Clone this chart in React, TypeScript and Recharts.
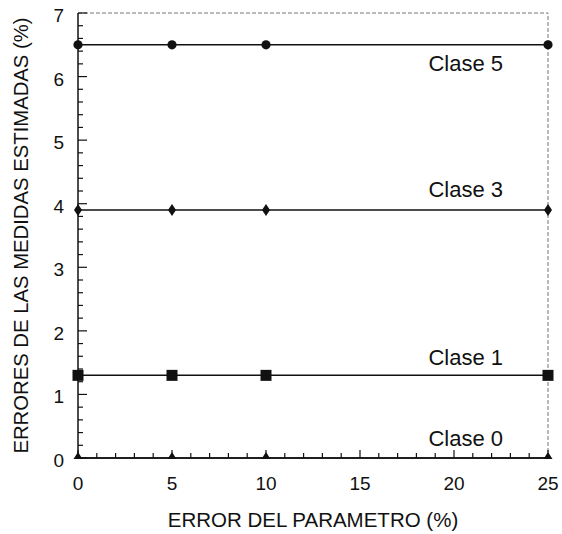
import { LabelList, Line, LineChart, ReferenceLine, XAxis, YAxis } from "recharts";

const X_VALUES = [0, 5, 10, 25];
const CLASE_5 = [6.5, 6.5, 6.5, 6.5];
const CLASE_3 = [3.9, 3.9, 3.9, 3.9];
const CLASE_1 = [1.3, 1.3, 1.3, 1.3];
const CLASE_0 = [0, 0, 0, 0];

const X_LABELS = [0, 5, 10, 15, 20, 25];
const Y_LABELS = [0, 1, 2, 3, 4, 5, 6, 7];
// minor ticks: every 1 on x, every 0.2 on y
const X_TICKS = Array.from({ length: 26 }, (_, i) => i);
const Y_TICKS = Array.from({ length: 36 }, (_, i) => Math.round(i * 2) / 10);

const DATA = X_VALUES.map((x, i) => ({
  x,
  c5: CLASE_5[i],
  c3: CLASE_3[i],
  c1: CLASE_1[i],
  c0: CLASE_0[i],
}));

const FONT = "'Liberation Sans', Arial, Helvetica, sans-serif";
const INK = "#111";

const isLabel = (list: number[], v: number) => list.some((l) => Math.abs(l - v) < 1e-6);

function YTick(props: any) {
  const { x, y, payload } = props;
  const major = isLabel(Y_LABELS, payload.value);
  return (
    <g>
      <line x1={x} x2={x + (major ? 9 : 5)} y1={y} y2={y} stroke={INK} strokeWidth={1.2} />
      {major && (
        <text x={x - 14} y={y + 9} textAnchor="end" fontSize={19} fontFamily={FONT} fill={INK}>
          {Math.round(payload.value)}
        </text>
      )}
    </g>
  );
}

function XTick(props: any) {
  const { x, y, payload } = props;
  const major = isLabel(X_LABELS, payload.value);
  return (
    <g>
      <line x1={x} x2={x} y1={y} y2={y - (major ? 8 : 5)} stroke={INK} strokeWidth={1.2} />
      {major && (
        <text x={x} y={y + 32} textAnchor="middle" fontSize={19} fontFamily={FONT} fill={INK}>
          {Math.round(payload.value)}
        </text>
      )}
    </g>
  );
}

const circleDot = (p: any) => <circle key={p.index} cx={p.cx} cy={p.cy} r={4.6} fill={INK} />;
const diamondDot = (p: any) => (
  <polygon
    key={p.index}
    points={`${p.cx},${p.cy - 6} ${p.cx + 4},${p.cy} ${p.cx},${p.cy + 6} ${p.cx - 4},${p.cy}`}
    fill={INK}
  />
);
const squareDot = (p: any) => (
  <rect key={p.index} x={p.cx - 5.5} y={p.cy - 5.5} width={11} height={11} fill={INK} />
);
const triangleDot = (p: any) => (
  <polygon
    key={p.index}
    points={`${p.cx},${p.cy - 6} ${p.cx + 4.5},${p.cy + 1} ${p.cx - 4.5},${p.cy + 1}`}
    fill={INK}
  />
);

// series name written just left of the last point, above or below the line
function classLabel(text: string, dy: number) {
  return (props: any) => {
    const { x, y, index } = props;
    if (index !== X_VALUES.length - 1) return null;
    return (
      <text x={x - 45} y={y + dy} textAnchor="end" fontSize={22} fontFamily={FONT} fill={INK}>
        {text}
      </text>
    );
  };
}

export default function App() {
  return (
    <div style={{ position: "absolute", left: 0, top: 0, background: "#fff" }}>
      <LineChart width={562} height={534} data={DATA} margin={{ top: 13, right: 14, left: 0, bottom: 0 }}>
        <XAxis
          dataKey="x"
          type="number"
          domain={[0, 25]}
          ticks={X_TICKS}
          interval={0}
          height={76}
          tickSize={0}
          tickMargin={0}
          tickLine={false}
          axisLine={{ stroke: INK, strokeWidth: 1.5 }}
          tick={<XTick />}
          label={{
            value: "ERROR DEL PARAMETRO (%)",
            position: "insideBottom",
            offset: 7,
            fontSize: 20.5,
            fontFamily: FONT,
            fill: INK,
          }}
        />
        <YAxis
          type="number"
          domain={[0, 7]}
          ticks={Y_TICKS}
          interval={0}
          width={78}
          tickSize={0}
          tickMargin={0}
          tickLine={false}
          axisLine={{ stroke: INK, strokeWidth: 1.5 }}
          tick={<YTick />}
          label={{
            value: "ERRORES DE LAS MEDIDAS ESTIMADAS (%)",
            angle: -90,
            position: "insideLeft",
            offset: 21,
            style: { textAnchor: "middle" },
            fontSize: 20.3,
            fontFamily: FONT,
            fill: INK,
          }}
        />
        <ReferenceLine y={7} stroke="#777" strokeWidth={1} strokeDasharray="4 2" />
        <ReferenceLine x={25} stroke="#777" strokeWidth={1} strokeDasharray="4 2" />
        <Line dataKey="c5" stroke={INK} strokeWidth={1.5} dot={circleDot} isAnimationActive={false}>
          <LabelList dataKey="c5" content={classLabel("Clase 5", 26)} />
        </Line>
        <Line dataKey="c3" stroke={INK} strokeWidth={1.5} dot={diamondDot} isAnimationActive={false}>
          <LabelList dataKey="c3" content={classLabel("Clase 3", -13)} />
        </Line>
        <Line dataKey="c1" stroke={INK} strokeWidth={1.5} dot={squareDot} isAnimationActive={false}>
          <LabelList dataKey="c1" content={classLabel("Clase 1", -10)} />
        </Line>
        <Line dataKey="c0" stroke={INK} strokeWidth={1.5} dot={triangleDot} isAnimationActive={false}>
          <LabelList dataKey="c0" content={classLabel("Clase 0", -12)} />
        </Line>
      </LineChart>
    </div>
  );
}
